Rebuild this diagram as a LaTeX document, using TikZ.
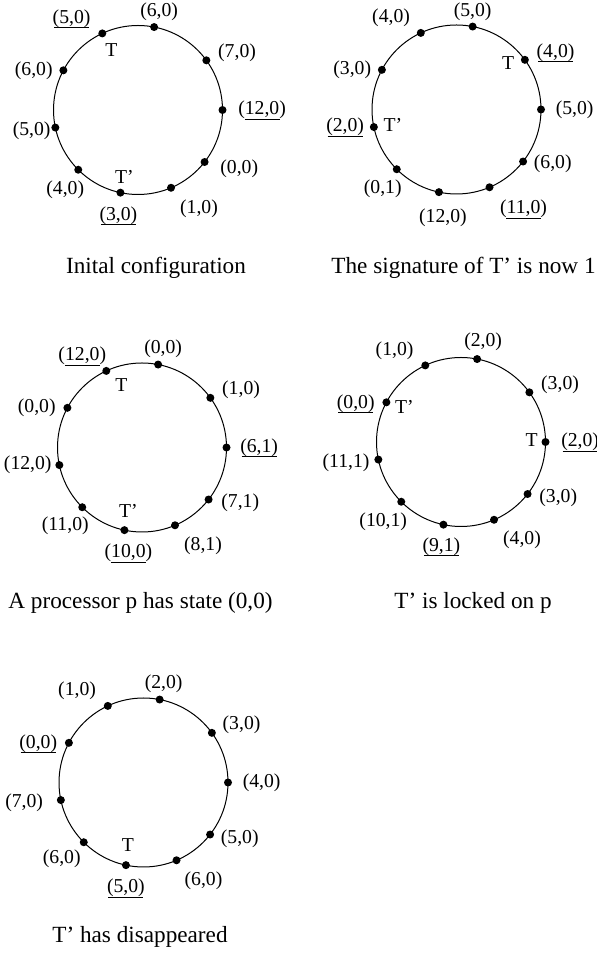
\documentclass[tikz,border=0pt]{standalone}
\usepackage{fontspec}
\setmainfont{Liberation Serif}
\usepackage{tikz}
\usetikzlibrary{positioning}

\newcommand{\marked}[1]{\ooalign{#1\cr\hidewidth\rule[-2.4pt]{17.5pt}{0.45pt}\hidewidth\cr}}

\begin{document}
\begin{tikzpicture}[
  x=0.5pt, y=0.5pt,
  ring_line/.style={draw=black, line width=0.5pt},
  proc/.style={circle, fill=black, inner sep=0pt, minimum size=4pt},
  state_style/.style={font=\fontsize{9.85}{11}\selectfont, inner sep=0pt, text height=6.9pt, text depth=2.2pt},
  caption_style/.style={font=\fontsize{11.6}{14}\selectfont, inner sep=0pt}
]
\useasboundingbox (0,0) rectangle (597,953);

% rings with their ten processors
\foreach \ring/\cx/\cy in {1/138/843, 2/456.5/843.5, 3/142/505.5, 4/461/511, 5/143.5/170.5} {
  \begin{scope}[shift={(\cx,\cy)}]
    \draw[ring_line] (0,0) circle (84.5);
    \foreach \a [count=\k from 0] in {0,36,79,115,152,192,225,258,293,322}
      \node[proc] (r\ring p\k) at (\a:84.5) {};
  \end{scope}
}

% Ring 1
\node[state_style, right=5.5pt of r1p0] {\marked{(12,0)}};
\node[state_style, right=3.5pt of r1p1, yshift=4pt] {(7,0)};
\node[state_style, above=0.5pt of r1p2, xshift=2.5pt] {(6,0)};
\node[state_style, left=3.5pt of r1p3, yshift=7.5pt] {\marked{(5,0)}};
\node[state_style, below=2pt of r1p3, xshift=4.5pt] (r1T) {T};
\node[state_style, left=3pt of r1p4] {(6,0)};
\node[state_style, left=0pt of r1p5, yshift=-1.5pt] {(5,0)};
\node[state_style, below=3pt of r1p6, xshift=-6.5pt] {(4,0)};
\node[state_style, below=4.5pt of r1p7, xshift=-1pt] {\marked{(3,0)}};
\node[state_style, above=0pt of r1p7, xshift=2pt] (r1Tp) {T’};
\node[state_style, below=3.5pt of r1p8, xshift=14pt] {(1,0)};
\node[state_style, right=5.5pt of r1p9, yshift=-3.5pt] {(0,0)};
\node[caption_style] (cap1) at (156,685) {Inital configuration};

% Ring 2
\node[state_style, right=5pt of r2p0] {(5,0)};
\node[state_style, right=3.5pt of r2p1, yshift=3.5pt] {\marked{(4,0)}};
\node[state_style, left=3pt of r2p1, yshift=-2.5pt] (r2T) {T};
\node[state_style, above=0.5pt of r2p2] {(5,0)};
\node[state_style, left=3pt of r2p3, yshift=7.5pt] {(4,0)};
\node[state_style, left=3pt of r2p4] {(3,0)};
\node[state_style, left=2.5pt of r2p5] {\marked{(2,0)}};
\node[state_style, right=2.5pt of r2p5] (r2Tp) {T’};
\node[state_style, below=3pt of r2p6, xshift=-7pt] {(0,1)};
\node[state_style, below=6pt of r2p7, xshift=2pt] {(12,0)};
\node[state_style, below=4pt of r2p8, xshift=17pt] {\marked{(11,0)}};
\node[state_style, right=3pt of r2p9, yshift=-1pt] {(6,0)};
\node[caption_style] (cap2) at (463.5,685) {The signature of T’ is now 1};

% Ring 3
\node[state_style, right=4.5pt of r3p0] {\marked{(6,1)}};
\node[state_style, right=3.5pt of r3p1, yshift=4pt] {(1,0)};
\node[state_style, above=1pt of r3p2, xshift=2.5pt] {(0,0)};
\node[state_style, above=0.5pt of r3p3, xshift=-12pt] {\marked{(12,0)}};
\node[state_style, below=1pt of r3p3, xshift=7.5pt] (r3T) {T};
\node[state_style, left=3.5pt of r3p4] {(0,0)};
\node[state_style, left=1.5pt of r3p5] {(12,0)};
\node[state_style, below=2.5pt of r3p6, xshift=-8.5pt] {(11,0)};
\node[state_style, below=4.5pt of r3p7, xshift=2pt] {\marked{(10,0)}};
\node[state_style, above=1.5pt of r3p7, xshift=2pt] (r3Tp) {T’};
\node[state_style, below=3.5pt of r3p8, xshift=14pt] {(8,1)};
\node[state_style, right=4pt of r3p9, yshift=-1.5pt] {(7,1)};
\node[caption_style] (cap3) at (140.5,350) {A processor p has state (0,0)};

% Ring 4
\node[state_style, right=5.5pt of r4p0] {\marked{(2,0)}};
\node[state_style, left=1.5pt of r4p0] (r4T) {T};
\node[state_style, right=3.5pt of r4p1, yshift=4pt] {(3,0)};
\node[state_style, above=1.5pt of r4p2, xshift=3pt] {(2,0)};
\node[state_style, left=3.5pt of r4p3, yshift=7.5pt] {(1,0)};
\node[state_style, left=3.5pt of r4p4, yshift=-0.5pt] {\marked{(0,0)}};
\node[state_style, right=2pt of r4p4, yshift=-3pt] (r4Tp) {T’};
\node[state_style, left=2pt of r4p5, yshift=-1.5pt] {(11,1)};
\node[state_style, below=3pt of r4p6, xshift=-9pt] {(10,1)};
\node[state_style, below=4pt of r4p7, xshift=-1pt] {\marked{(9,1)}};
\node[state_style, below=3pt of r4p8, xshift=14pt] {(4,0)};
\node[state_style, right=3.5pt of r4p9, yshift=-2pt] {(3,0)};
\node[caption_style] (cap4) at (473,350) {T’ is locked on p};

% Ring 5
\node[state_style, right=5pt of r5p0] {(4,0)};
\node[state_style, right=3pt of r5p1, yshift=4pt] {(3,0)};
\node[state_style, above=1pt of r5p2, xshift=2pt] {(2,0)};
\node[state_style, left=3.5pt of r5p3, yshift=7.5pt] {(1,0)};
\node[state_style, left=3.5pt of r5p4, yshift=-0.5pt] {\marked{(0,0)}};
\node[state_style, left=6.5pt of r5p5, yshift=-1.5pt] {(7,0)};
\node[state_style, below=1.5pt of r5p6, xshift=-11pt] {(6,0)};
\node[state_style, below=4.5pt of r5p7] {\marked{(5,0)}};
\node[state_style, above=2pt of r5p7, xshift=1pt] (r5T) {T};
\node[state_style, below=3.5pt of r5p8, xshift=13.5pt] {(6,0)};
\node[state_style, right=3pt of r5p9, yshift=-2pt] {(5,0)};
\node[caption_style] (cap5) at (140,16) {T’ has disappeared};

\end{tikzpicture}
\end{document}
